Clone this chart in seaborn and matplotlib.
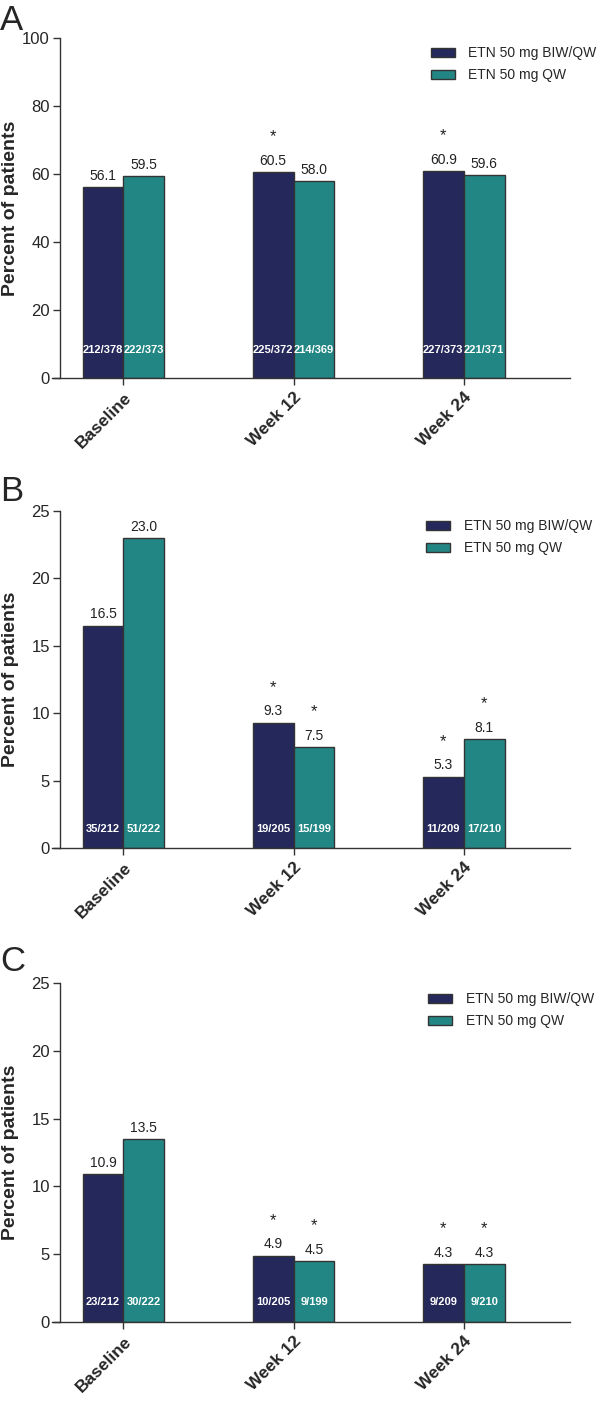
import pandas as pd
import matplotlib
matplotlib.use("Agg")
import matplotlib.pyplot as plt
from matplotlib.patches import Patch
import seaborn as sns

# data
timepoints = ["Baseline", "Week 12", "Week 24"]
groups = ["ETN 50 mg BIW/QW", "ETN 50 mg QW"]

a_biw = [56.1, 60.5, 60.9]
a_qw = [59.5, 58.0, 59.6]
a_n_biw = ["212/378", "225/372", "227/373"]
a_n_qw = ["222/373", "214/369", "221/371"]
a_star_biw = [False, True, True]
a_star_qw = [False, False, False]

b_biw = [16.5, 9.3, 5.3]
b_qw = [23.0, 7.5, 8.1]
b_n_biw = ["35/212", "19/205", "11/209"]
b_n_qw = ["51/222", "15/199", "17/210"]
b_star_biw = [False, True, True]
b_star_qw = [False, True, True]

c_biw = [10.9, 4.9, 4.3]
c_qw = [13.5, 4.5, 4.3]
c_n_biw = ["23/212", "10/205", "9/209"]
c_n_qw = ["30/222", "9/199", "9/210"]
c_star_biw = [False, True, True]
c_star_qw = [False, True, True]

NAVY = "#25285b"
TEAL = "#228784"
EDGE = "#333333"

sns.set_style("ticks")
plt.rcParams["font.family"] = ["Liberation Sans", "DejaVu Sans"]

W, H = 600, 1401
fig = plt.figure(figsize=(W / 100, H / 100), dpi=100)


def draw_panel(top_px, bottom_px, letter, letter_px, legend_px, biw, qw, n_biw, n_qw,
               st_biw, st_qw, ymax, ystep, inner_px):
    ax = fig.add_axes([52 / W, 1 - bottom_px / H, 518 / W, (bottom_px - top_px) / H])
    df = pd.DataFrame({
        "time": timepoints * 2,
        "group": [groups[0]] * 3 + [groups[1]] * 3,
        "pct": biw + qw,
    })
    sns.barplot(data=df, x="time", y="pct", hue="group", hue_order=groups,
                palette=[NAVY, TEAL], saturation=1, width=0.48,
                edgecolor=EDGE, linewidth=1, legend=False, ax=ax, errorbar=None)
    ax.set_xlim(-0.42, 2.625)
    ax.set_ylim(0, ymax)
    ax.set_yticks(range(0, ymax + 1, ystep))
    ax.spines["left"].set_position(("data", -0.375))
    ax.spines["left"].set_bounds(0, ymax)
    sns.despine(ax=ax)
    for sp in ("left", "bottom"):
        ax.spines[sp].set_color(EDGE)
        ax.spines[sp].set_linewidth(1)
    ax.tick_params(axis="both", length=5, width=1, color=EDGE)
    ax.tick_params(axis="y", labelsize=12, pad=2)
    ax.set_xlabel("")
    ax.set_ylabel("Percent of patients", fontsize=14, fontweight="bold")
    ax.yaxis.set_label_coords((19 - 52) / 518, 0.5)
    ax.set_xticks(range(len(timepoints)))
    ax.set_xticklabels(timepoints, rotation=45, ha="right", rotation_mode="anchor",
                       fontsize=12.5, fontweight="bold")

    stars = [st_biw, st_qw]
    inner = [n_biw, n_qw]
    for k, cont in enumerate(ax.containers):
        for i, bar in enumerate(cont):
            x = bar.get_x() + bar.get_width() / 2
            h = bar.get_height()
            ax.annotate(f"{h:.1f}", (x, h), xytext=(0, 3), textcoords="offset points",
                        ha="center", va="bottom", fontsize=10, color="#222222")
            if stars[k][i]:
                ax.annotate("*", (x, h), xytext=(0, 20), textcoords="offset points",
                            ha="center", va="bottom", fontsize=12, color="#222222")
            ax.annotate(inner[k][i], (x, 0), xytext=(0, inner_px * 0.72),
                        textcoords="offset points", ha="center", va="center",
                        fontsize=8, fontweight="bold", color="white")

    fig.text(0, 1 - letter_px / H, letter, fontsize=25, ha="left", va="top")
    handles = [Patch(facecolor=NAVY, edgecolor=EDGE, linewidth=1),
               Patch(facecolor=TEAL, edgecolor=EDGE, linewidth=1)]
    ax.legend(handles, groups, loc="upper left",
              bbox_to_anchor=(legend_px[0] / W, 1 - legend_px[1] / H),
              bbox_transform=fig.transFigure, frameon=False, fontsize=10, borderpad=0,
              borderaxespad=0, handlelength=1.7, handleheight=0.6, handletextpad=1.0,
              labelspacing=0.6)
    return ax


draw_panel(38, 378, "A", 4, (431, 46), a_biw, a_qw, a_n_biw, a_n_qw,
           a_star_biw, a_star_qw, 100, 20, 28)
draw_panel(511, 848, "B", 475, (426, 519), b_biw, b_qw, b_n_biw, b_n_qw,
           b_star_biw, b_star_qw, 25, 5, 19)
draw_panel(983, 1322, "C", 945, (428, 992), c_biw, c_qw, c_n_biw, c_n_qw,
           c_star_biw, c_star_qw, 25, 5, 20)

fig.savefig("out.png", dpi=100)
